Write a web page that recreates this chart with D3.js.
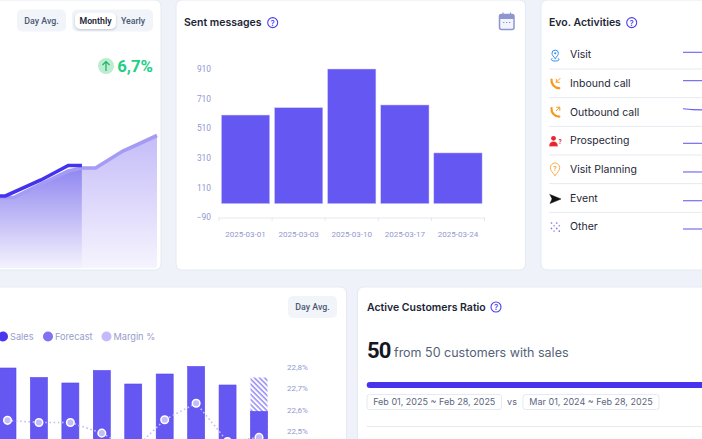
<!DOCTYPE html>
<html>
<head>
<meta charset="utf-8">
<script src="https://cdn.jsdelivr.net/npm/d3@7"></script>
<style>
  html, body { margin: 0; padding: 0; background: #eff3f9; overflow: hidden; }
  svg { display: block; font-family: Inter, Roboto, sans-serif; }
</style>
</head>
<body>
<svg id="chart" width="702" height="439"></svg>
<script>
// top left: sales vs forecast area
var forecastSteps = [0, 1, 3, 5, 6, 7, 9, 10, 11.5];
var forecastArea = [35.25, 35.25, 42, 48.5, 50, 50, 58.5, 61.5, 66.25];
var salesSteps = [0, 0.4, 3, 5, 6];
var salesArea = [36, 36, 44, 51.25, 51.25];

// sent messages
var messageDates = ["2025-03-01", "2025-03-03", "2025-03-10", "2025-03-17", "2025-03-24"];
var messageValues = [599, 649, 910, 667, 343];
var messageTicks = [-90, 110, 310, 510, 710, 910];

// activities
var activityNames = ["Visit", "Inbound call", "Outbound call", "Prospecting", "Visit Planning", "Event", "Other"];
var activityTrends = [
  [2.7, 2.7, 2.7],
  [3, 3, 3],
  [3.6, 2.7, 2.5],
  [-2.3, -2.3, -2.3],
  [-2.3, -2.3, -2.3],
  [-2.4, -2.4, -2.4],
  [-2, -2, -2]
];

// bottom left: sales, forecast and margin
var salesMonths = [1, 2, 3, 4, 5, 6, 7, 8, 9];
var salesValues = [102, 92.5, 87, 99.5, 86, 96, 103.5, 85, 58.5];
var forecastValues = [92.5];
var forecastMonths = [9];
var marginValues = [22.55, 22.54, 22.54, 22.49, 22.41, 22.553, 22.63, 22.45, 22.47];
var marginTicks = [22.8, 22.7, 22.6, 22.5];
var legendNames = ["Sales", "Forecast", "Margin %"];
var legendColors = ["#4936ee", "#7f72f3", "#c3bcf8"];

var svg = d3.select("#chart");
var defs = svg.append("defs");
var tickColor = "#9298d0";
var tickFont = "Roboto, sans-serif";

function card(x, y, w, h) {
  svg.append("rect")
    .attr("x", x).attr("y", y).attr("width", w).attr("height", h).attr("rx", 6)
    .attr("fill", "#fff").attr("stroke", "#e4e9f2").attr("stroke-width", 1);
}

function helpIcon(x, y) {
  var g = svg.append("g").attr("transform", "translate(" + x + "," + y + ")");
  g.append("circle").attr("r", 5).attr("fill", "none").attr("stroke", "#4a3df0").attr("stroke-width", 1.1);
  g.append("text").attr("text-anchor", "middle").attr("y", 2.9).attr("font-size", 8)
    .attr("font-weight", 500).attr("fill", "#4a3df0").text("?");
}

function smallLabel(x, y, label, weight, color) {
  svg.append("text").attr("x", x).attr("y", y).attr("text-anchor", "middle")
    .attr("font-family", tickFont).attr("font-size", 8.8).attr("font-weight", weight)
    .attr("fill", color).text(label);
}

function button(x, y, w, h, label) {
  svg.append("rect").attr("x", x).attr("y", y).attr("width", w).attr("height", h).attr("rx", 5).attr("fill", "#f1f4f9");
  smallLabel(x + w / 2, y + h / 2 + 3.2, label, 500, "#4b5873");
}

function title(x, y, label) {
  svg.append("text").attr("x", x).attr("y", y).attr("font-size", 10.5).attr("font-weight", 600)
    .attr("fill", "#1c2536").text(label);
}

card(-20, 0, 181, 270);
card(176, 0, 349.5, 270);
card(541, 0, 190, 270);
card(-20, 287, 366.5, 170);
card(357.5, 287, 370, 170);

// ---- top left card
button(17, 9.5, 49, 22, "Day Avg.");
svg.append("rect").attr("x", 72).attr("y", 9.5).attr("width", 81).attr("height", 22).attr("rx", 5).attr("fill", "#f1f4f9");
svg.append("rect").attr("x", 75).attr("y", 12.5).attr("width", 41).attr("height", 16.5).attr("rx", 5).attr("fill", "#fff")
  .style("filter", "drop-shadow(0 1px 1px rgba(40,50,80,.25))");
smallLabel(95.5, 23.5, "Monthly", 600, "#1c2536");
smallLabel(133, 23.5, "Yearly", 500, "#4b5873");

svg.append("circle").attr("cx", 106).attr("cy", 66).attr("r", 8).attr("fill", "#bdeccf");
svg.append("path").attr("d", "M106 71V61.5M102.5 65L106 61.5L109.5 65").attr("fill", "none")
  .attr("stroke", "#12b76a").attr("stroke-width", 1.2);
svg.append("text").attr("x", 153).attr("y", 72).attr("text-anchor", "end").attr("font-family", tickFont)
  .attr("font-size", 16.8).attr("font-weight", 700).attr("fill", "#1fcf84").text("6,7%");

var areaX = d3.scaleLinear().domain([0, 11.5]).range([0, 157]);
var areaY = d3.scaleLinear().domain([0, 100]).range([268, 68]);

function fade(id, top, bottom) {
  var g = defs.append("linearGradient").attr("id", id).attr("x1", 0).attr("x2", 0).attr("y1", 0).attr("y2", 1);
  g.append("stop").attr("offset", 0).attr("stop-color", top);
  g.append("stop").attr("offset", 1).attr("stop-color", bottom);
}
fade("futureFade", "#c4bcf8", "#f6f4fe");
fade("pastFade", "#8f86f0", "#f4f2fd");

var forecastPoints = forecastSteps.map(function (s, i) { return [s, forecastArea[i]]; });
var salesPoints = salesSteps.map(function (s, i) { return [s, salesArea[i]]; });
var makeArea = d3.area().x(function (d) { return areaX(d[0]); }).y0(areaY(0)).y1(function (d) { return areaY(d[1]); });
var makeLine = d3.line().x(function (d) { return areaX(d[0]); }).y(function (d) { return areaY(d[1]); });

svg.append("path").attr("d", makeArea(forecastPoints.slice(4))).attr("fill", "url(#futureFade)");
svg.append("path").attr("d", makeArea(forecastPoints.slice(0, 5))).attr("fill", "url(#pastFade)");
svg.append("path").attr("d", makeLine(forecastPoints)).attr("fill", "none").attr("stroke", "#a49cf4").attr("stroke-width", 3.6);
svg.append("path").attr("d", makeLine(salesPoints)).attr("fill", "none").attr("stroke", "#4433ee").attr("stroke-width", 3.6);

// ---- sent messages
title(184, 26, "Sent messages");
helpIcon(272.7, 22.6);
svg.append("rect").attr("x", 499.5).attr("y", 14.5).attr("width", 14.5).attr("height", 15).attr("rx", 2)
  .attr("fill", "#f2f3fb").attr("stroke", "#8f96cf").attr("stroke-width", 1.5);
svg.append("rect").attr("x", 499.5).attr("y", 14.5).attr("width", 14.5).attr("height", 4.5).attr("fill", "#8f96cf");
svg.append("path").attr("d", "M503 12.5v3M510.5 12.5v3M503 22.5h1.4M506 22.5h1.4M509 22.5h1.4").attr("fill", "none")
  .attr("stroke", "#8f96cf").attr("stroke-width", 1.2);

var msgX = d3.scaleBand().domain(messageDates).range([219, 484.5]).paddingInner(0.09).paddingOuter(0.045);
var msgY = d3.scaleLinear().domain([-90, 910]).range([217, 69]);

var msgXAxis = svg.append("g").attr("transform", "translate(0,217.5)")
  .call(d3.axisBottom(msgX).tickSize(0));
msgXAxis.select(".domain").attr("stroke", "#e6e8f0");
msgXAxis.selectAll("text").attr("dy", 0).attr("y", 19).attr("font-size", 8).attr("fill", tickColor)
  .attr("font-family", tickFont);
svg.selectAll(".msgTick").data(d3.range(6)).enter().append("line").attr("class", "msgTick")
  .attr("x1", function (i) { return 219 + i * 53.1; }).attr("x2", function (i) { return 219 + i * 53.1; })
  .attr("y1", 217).attr("y2", 221).attr("stroke", "#e6e8f0");

var msgYAxis = svg.append("g").attr("transform", "translate(211,0)")
  .call(d3.axisLeft(msgY).tickValues(messageTicks).tickSize(0));
msgYAxis.select(".domain").remove();
msgYAxis.selectAll("text").attr("x", 0).attr("font-size", 8.4).attr("fill", tickColor)
  .attr("font-family", tickFont);

svg.selectAll(".msgBar").data(messageValues).enter().append("rect").attr("class", "msgBar")
  .attr("x", function (d, i) { return msgX(messageDates[i]); })
  .attr("width", msgX.bandwidth())
  .attr("y", function (d) { return msgY(d); })
  .attr("height", function (d) { return msgY(0) - msgY(d); })
  .attr("fill", "#6558f2").attr("stroke", "#d4d0fb").attr("stroke-width", 0.5);

// ---- activities
title(549, 26, "Evo. Activities");
helpIcon(631.7, 22.6);
var rowY = d3.scalePoint().domain(activityNames).range([55, 227]);
var sparkX = d3.scaleLinear().domain([0, 2]).range([683, 702]);
var sparkY = d3.scaleLinear().domain([-5, 5]).range([5, -5]);

activityNames.forEach(function (name, i) {
  var y = rowY(name);
  svg.append("text").attr("x", 570).attr("y", y + 3.2).attr("font-size", 10.5).attr("font-weight", 400)
    .attr("fill", "#1f2737").text(name);
  var spark = d3.line().x(function (d, k) { return sparkX(k); }).y(function (d) { return y + sparkY(d); })
    .curve(d3.curveMonotoneX);
  svg.append("path").attr("d", spark(activityTrends[i])).attr("fill", "none")
    .attr("stroke", "#6a5ff2").attr("stroke-width", 1.1);
  if (i < activityNames.length - 1) {
    svg.append("line").attr("x1", 549).attr("x2", 702).attr("y1", y + 14).attr("y2", y + 14)
      .attr("stroke", "#e6e9ef").attr("stroke-width", 1);
  }
});

function icon(d, color, width, fill) {
  svg.append("path").attr("d", d).attr("fill", fill || "none").attr("stroke", color)
    .attr("stroke-width", width).attr("stroke-linecap", "round").attr("stroke-linejoin", "round");
}
// visit
icon("M555.2 58.5C553.5 56.5 552 55 552 53.3a3.2 3.2 0 0 1 6.4 0C558.4 55 556.9 56.5 555.2 58.5Z", "#2f8ff0", 1);
icon("M555.2 53.3h.1", "#2f8ff0", 2);
icon("M552 58.5c-2 1.8 .5 2.5 3.2 2.5s5.2-.7 3.2-2.5", "#2f8ff0", 1);
// inbound call
icon("M551.5 79.5c-.5 4.5 3 8.7 7.8 8.7", "#f79a1c", 2.2);
icon("M560 78.5l-3.5 3.5M556.3 79.3v3h3", "#f79a1c", 1);
// outbound call
icon("M551.5 108c-.5 4.5 3 8.7 7.8 8.7", "#f79a1c", 2.2);
icon("M556.2 110.8l3.5-3.5M556.6 107.2h3.2v3.2", "#f79a1c", 1);
// prospecting
svg.append("circle").attr("cx", 553.5).attr("cy", 138.3).attr("r", 2.4).attr("fill", "#e8262d");
icon("M549.5 146c0-3 1.7-4.3 4-4.3s4 1.3 4 4.3Z", "#e8262d", 0.4, "#e8262d");
svg.append("text").attr("x", 558.5).attr("y", 143.5).attr("font-size", 6).attr("font-weight", 600)
  .attr("fill", "#e8262d").text("?");
// visit planning
icon("M555 175.5C552.5 172.5 550.3 170.3 550.3 167.7a4.7 4.7 0 0 1 9.4 0C559.7 170.3 557.5 172.5 555 175.5Z", "#f7b04a", 1);
svg.append("text").attr("x", 555).attr("y", 170.5).attr("text-anchor", "middle").attr("font-size", 6.5)
  .attr("font-weight", 600).attr("fill", "#f7a93c").text("?");
// event
icon("M550 194.5L561 199L550 203.5L552 199Z", "#111", 0.5, "#111");
// other
d3.range(4).forEach(function (row) {
  d3.range(4).forEach(function (col) {
    if ((row + col) % 2 === 0) {
      svg.append("circle").attr("cx", 551.5 + col * 2.6).attr("cy", 223 + row * 2.7)
        .attr("r", 0.85).attr("fill", col === 1 || row === 1 ? "#a4a1ea" : "#7c78e0");
    }
  });
});

// ---- bottom left
button(288, 296, 49, 22, "Day Avg.");
var legendX = [3, 48, 106.5];
legendNames.forEach(function (name, i) {
  svg.append("circle").attr("cx", legendX[i]).attr("cy", 336.5).attr("r", 5).attr("fill", legendColors[i]);
  svg.append("text").attr("x", legendX[i] + 7).attr("y", 339.8).attr("font-size", 9.2)
    .attr("fill", "#979dcc").text(name);
});

var barX = d3.scaleLinear().domain([1, 9]).range([7.5, 259]);
var barY = d3.scaleLinear().domain([0, 100]).range([470, 370]);
var marginY = d3.scaleLinear().domain([22.5, 22.8]).range([431, 367]);

var hatch = defs.append("pattern").attr("id", "hatch").attr("width", 3.6).attr("height", 3.6)
  .attr("patternUnits", "userSpaceOnUse").attr("patternTransform", "rotate(45)");
hatch.append("rect").attr("width", 3.6).attr("height", 3.6).attr("fill", "#fff");
hatch.append("rect").attr("width", 3.6).attr("height", 1.6).attr("fill", "#9d93f6");

svg.selectAll(".forecastBar").data(forecastValues).enter()
  .append("rect").attr("class", "forecastBar")
  .attr("x", function (d, i) { return barX(forecastMonths[i]) - 8.5; }).attr("width", 17)
  .attr("y", function (d) { return barY(d); })
  .attr("height", function (d) { return barY(0) - barY(d); })
  .attr("fill", "url(#hatch)");

svg.selectAll(".salesBar").data(salesValues).enter().append("rect").attr("class", "salesBar")
  .attr("x", function (d, i) { return barX(salesMonths[i]) - 8.5; })
  .attr("width", 17)
  .attr("y", function (d) { return barY(d); })
  .attr("height", function (d) { return barY(0) - barY(d); })
  .attr("fill", "#6558f2").attr("stroke", "#5546f0").attr("stroke-width", 0.6);

var marginPoints = marginValues.map(function (v, i) { return [salesMonths[i], v]; });
var marginLine = d3.line().x(function (d) { return barX(d[0]); }).y(function (d) { return marginY(d[1]); });
svg.append("path").attr("d", marginLine(marginPoints)).attr("fill", "none").attr("stroke", "#c3bcf8")
  .attr("stroke-width", 1.6).attr("stroke-dasharray", "1.6 2.6");
svg.selectAll(".marginDot").data(marginPoints).enter().append("circle").attr("class", "marginDot")
  .attr("cx", function (d) { return barX(d[0]); })
  .attr("cy", function (d) { return marginY(d[1]); })
  .attr("r", 3.8).attr("fill", "#c3bcf8").attr("stroke", "#fff").attr("stroke-width", 1.5);

var marginAxis = svg.append("g").attr("transform", "translate(287,0)")
  .call(d3.axisRight(marginY).tickValues(marginTicks).tickSize(0)
    .tickFormat(function (d) { return d3.format(".1f")(d).replace(".", ",") + "%"; }));
marginAxis.select(".domain").remove();
marginAxis.selectAll("text").attr("x", 0).attr("font-size", 8).attr("fill", tickColor)
  .attr("font-family", tickFont);

// ---- active customers
title(367, 311, "Active Customers Ratio");
helpIcon(496, 307);
svg.append("text").attr("x", 367).attr("y", 358).attr("font-family", tickFont).attr("font-size", 22)
  .attr("font-weight", 700).attr("letter-spacing", -0.8).attr("fill", "#15181f").text("50");
svg.append("text").attr("x", 394).attr("y", 357).attr("font-size", 12.5).attr("fill", "#566179")
  .text("from 50 customers with sales");
svg.append("rect").attr("x", 366.7).attr("y", 382).attr("width", 345).attr("height", 6).attr("rx", 3).attr("fill", "#4733ec");

function dateBox(x, w, label) {
  svg.append("rect").attr("x", x).attr("y", 394.5).attr("width", w).attr("height", 15).attr("rx", 2.5)
    .attr("fill", "#fff").attr("stroke", "#e4e9f2");
  svg.append("text").attr("x", x + w / 2).attr("y", 405.3).attr("text-anchor", "middle").attr("font-size", 9)
    .attr("fill", "#5b6680").text(label);
}
dateBox(367, 134.5, "Feb 01, 2025 ~ Feb 28, 2025");
svg.append("text").attr("x", 512).attr("y", 405.3).attr("text-anchor", "middle").attr("font-size", 9)
  .attr("fill", "#5b6680").text("vs");
dateBox(523, 136, "Mar 01, 2024 ~ Feb 28, 2025");
svg.append("line").attr("x1", 367).attr("x2", 702).attr("y1", 426.5).attr("y2", 426.5).attr("stroke", "#e6e9ef");
</script>
</body>
</html>
